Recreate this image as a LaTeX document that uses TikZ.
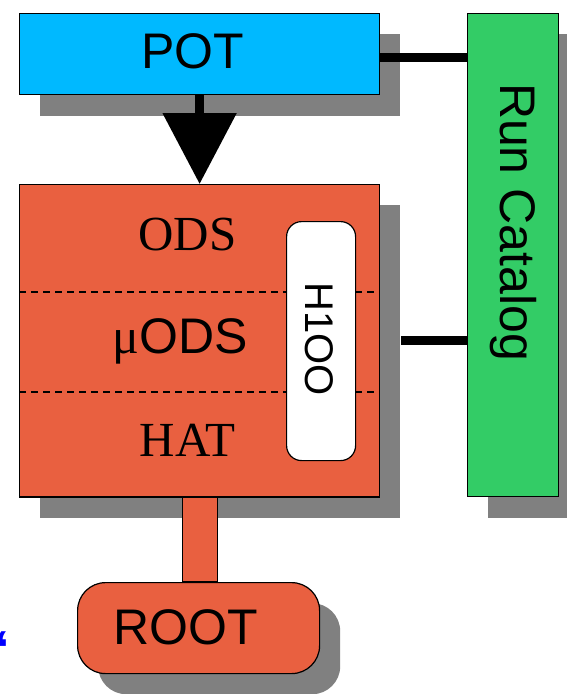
\documentclass[tikz,border=0pt]{standalone}
\usepackage{fontspec}
\setmainfont{Liberation Sans}
\newfontfamily\seriffont{Liberation Serif}
\usetikzlibrary{arrows.meta}
\definecolor{potblue}{RGB}{0,185,255}
\definecolor{boxred}{RGB}{233,96,64}
\definecolor{catgreen}{RGB}{51,204,102}
\definecolor{shadowgray}{RGB}{128,128,128}
\begin{document}
\begin{tikzpicture}[x=1pt,y=-1pt,
  blk/.style={rectangle,inner sep=0pt,anchor=north west,draw=black,line width=1.2pt},
  shd/.style={rectangle,inner sep=0pt,anchor=north west,fill=shadowgray,draw=none},
  big/.style={inner sep=0pt,anchor=base,font=\fontsize{50}{60}\selectfont},
  bigserif/.style={inner sep=0pt,anchor=base,font=\seriffont\fontsize{49}{58}\selectfont},
  link/.style={draw=black,line width=9pt},
  sep/.style={draw=black,line width=1.2pt,dash pattern=on 7pt off 5pt}]
\useasboundingbox (0,0) rectangle (567,694);
% shadows
\node[shd,minimum width=360pt,minimum height=82pt] (potshadow) at (40,34) {};
\node[shd,minimum width=91pt,minimum height=484pt] (runshadow) at (488,34) {};
\node[shd,minimum width=360pt,minimum height=313pt] (redshadow) at (40,205) {};
\node[shd,rounded corners=28pt,minimum width=242pt,minimum height=91pt] (rootshadow) at (98,603) {};
% boxes
\node[blk,fill=potblue,minimum width=360pt,minimum height=81pt] (pot) at (19,13) {};
\node[blk,fill=catgreen,minimum width=91pt,minimum height=483pt] (run) at (467,13) {};
\node[blk,fill=boxred,minimum width=360pt,minimum height=312pt] (red) at (19,184) {};
\node[blk,fill=boxred,rounded corners=28pt,minimum width=242pt,minimum height=91pt] (root) at (77,582) {};
% stem to ROOT
\draw[fill=boxred,line width=1.2pt] ([xshift=-17pt]red.south) rectangle ([xshift=19pt]root.north);
\draw[line width=1.2pt] (red.south west) -- (red.south east);
% dashed separators
\coordinate (s1l) at (19,292); \coordinate (s1r) at (379,292);
\coordinate (s2l) at (19,392); \coordinate (s2r) at (379,392);
\draw[sep] (s1l) -- (s1r);
\draw[sep] (s2l) -- (s2r);
\node[blk,fill=white,rounded corners=15pt,minimum width=69pt,minimum height=239pt] (h1oo) at (286,221) {};
% texts
\node[big] (tpot) at (192.5,68) {POT};
\node[big,rotate=-90] (trun) at (500,222) {Run Catalog};
\node[bigserif] (tods) at (187.5,250) {ODS};
\node[inner sep=0pt,anchor=base,font=\fontsize{50}{58}\selectfont] (tmods) at (180,353) {{\seriffont μ}ODS};
\node[bigserif] (that) at (187.5,456) {HAT};
\node[inner sep=0pt,anchor=base,rotate=-90,font=\fontsize{40}{48}\selectfont] (th1oo) at (305,339) {H1OO};
\node[big] (troot) at (186,644) {ROOT};
\node[inner sep=0pt,text=blue,font=\bfseries\fontsize{52}{60}\selectfont] (quote) at (3,650) {‘};
% connectors
\draw[link] ([yshift=-3.5pt]pot.east) -- ([yshift=-3.5pt]run.west |- pot.east);
\draw[link] ([xshift=21pt]red.east) -- (run.west |- red.east);
\draw[line width=9pt,-{Triangle[length=71pt,width=72pt]}] (pot.south) -- (red.north);
\end{tikzpicture}
\end{document}
